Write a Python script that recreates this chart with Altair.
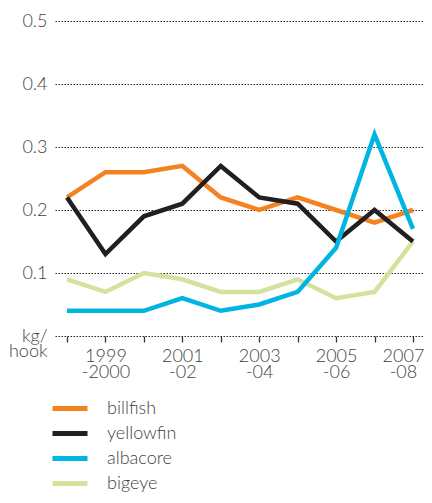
import altair as alt
import pandas as pd

periods = ["1998-99", "1999-2000", "2000-01", "2001-02", "2002-03",
           "2003-04", "2004-05", "2005-06", "2006-07", "2007-08"]
tick_labels = ["", "1999|-2000", "", "2001|-02", "", "2003|-04", "", "2005|-06", "", "2007|-08"]

billfish = [0.22, 0.26, 0.26, 0.27, 0.22, 0.20, 0.22, 0.20, 0.18, 0.20]
yellowfin = [0.22, 0.13, 0.19, 0.21, 0.27, 0.22, 0.21, 0.15, 0.20, 0.15]
albacore = [0.04, 0.04, 0.04, 0.06, 0.04, 0.05, 0.07, 0.14, 0.32, 0.17]
bigeye = [0.09, 0.07, 0.10, 0.09, 0.07, 0.07, 0.09, 0.06, 0.07, 0.15]

species = ["billfish", "yellowfin", "albacore", "bigeye"]
colors = ["#F58220", "#231F20", "#00B5E2", "#D3E39D"]

draw_order = [("bigeye", bigeye), ("billfish", billfish),
              ("yellowfin", yellowfin), ("albacore", albacore)]
rows = []
for name, vals in draw_order:
    for i, v in enumerate(vals):
        rows.append({"idx": i, "period": periods[i], "species": name, "value": v})
df = pd.DataFrame(rows)

label_arr = "[" + ",".join("'" + s + "'" for s in tick_labels) + "]"
x_label_expr = f"split({label_arr}[datum.value], '|')"

FONT = "Lato"
W = 300
TXT = "#3f3f3f"

chart = alt.Chart(df).mark_line(strokeWidth=4.5, strokeJoin="miter").encode(
    x=alt.X("idx:Q",
            scale=alt.Scale(domain=[-0.312, 9.287], nice=False, zero=False),
            axis=alt.Axis(values=list(range(10)), labelExpr=x_label_expr,
                          title=None, grid=False, domain=False,
                          ticks=True, tickSize=6, tickWidth=1.3, tickColor="#333",
                          labelFontSize=18, labelLineHeight=16, labelPadding=5,
                          labelOffset={"condition": {"test": "datum.value == 9", "value": -10}, "value": 0},
                          labelColor=TXT, labelFont=FONT, labelFontWeight=W,
                          labelOverlap=False, labelFlush=False, labelBaseline="top")),
    y=alt.Y("value:Q",
            scale=alt.Scale(domain=[0, 0.5], nice=False),
            axis=alt.Axis(values=[0, 0.1, 0.2, 0.3, 0.4, 0.5],
                          labelExpr="datum.value == 0 ? ['kg/', 'hook'] : format(datum.value, '.1f')",
                          title=None, domain=False, ticks=False,
                          grid=True, gridDash=[1.5, 1.5], gridColor="#222", gridWidth=1,
                          labelFontSize=18, labelLineHeight=15, labelPadding=8,
                          labelColor=TXT, labelFont=FONT, labelFontWeight=W)),
    color=alt.Color("species:N",
                    scale=alt.Scale(domain=species, range=colors),
                    legend=alt.Legend(title=None, orient="none", legendX=0, legendY=372.5,
                                      symbolType="M-1.4,0H1.4", symbolSize=625,
                                      symbolStrokeWidth=5,
                                      rowPadding=0, padding=0, labelOffset=22,
                                      labelFontSize=18, labelColor=TXT, labelFont=FONT,
                                      labelFontWeight=W)),
).properties(
    width=369, height=315,
    autosize=alt.AutoSizeParams(type="none"),
    padding={"left": 47, "top": 13, "right": 0, "bottom": 159},
).configure_view(stroke=None)

chart.save("out.html", embed_options={"renderer": "svg", "actions": False})
